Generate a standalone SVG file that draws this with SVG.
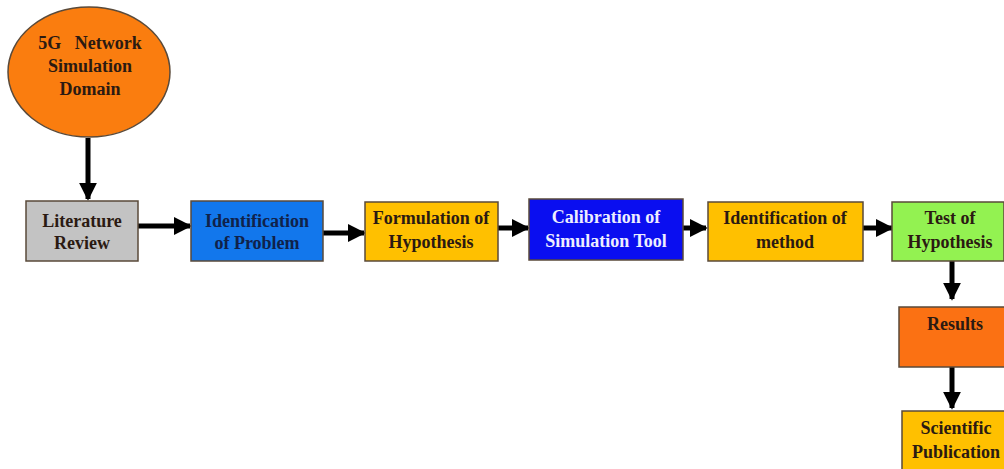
<svg xmlns="http://www.w3.org/2000/svg" width="1004" height="469" viewBox="0 0 1004 469">
<style>
.t{font-family:"Liberation Serif","DejaVu Serif",serif;font-weight:bold;font-size:18px;text-anchor:middle;fill:#2b1a12}
.box{stroke:#5a4a3a;stroke-width:1.5}
.c{stroke:#000;stroke-width:5;fill:none}
</style>
<defs>
<marker id="ah" viewBox="0 0 10 10" refX="9" refY="5" markerWidth="3.6" markerHeight="3.6" orient="auto" markerUnits="strokeWidth">
<path d="M0,0 L10,5 L0,10 Z" fill="#000"/>
</marker>
</defs>
<rect width="1004" height="469" fill="#fff"/>
<g id="connectors">
<line class="c" x1="88" y1="138" x2="88" y2="199" marker-end="url(#ah)"/>
<line class="c" x1="138" y1="226" x2="190" y2="226" marker-end="url(#ah)"/>
<line class="c" x1="323" y1="233" x2="364" y2="233" marker-end="url(#ah)"/>
<line class="c" x1="498" y1="228" x2="528" y2="228" marker-end="url(#ah)"/>
<line class="c" x1="683" y1="228" x2="706" y2="228" marker-end="url(#ah)"/>
<line class="c" x1="863" y1="228" x2="892" y2="228" marker-end="url(#ah)"/>
<line class="c" x1="952" y1="261" x2="952" y2="299" marker-end="url(#ah)"/>
<line class="c" x1="952" y1="367" x2="952" y2="408" marker-end="url(#ah)"/>
</g>
<g id="domain">
<ellipse cx="89" cy="72" rx="81" ry="65" fill="#fa7d0f" stroke="#5a4a3a" stroke-width="1.5"/>
<text class="t" x="90" y="49" xml:space="preserve">5G   Network</text>
<text class="t" x="90" y="72">Simulation</text>
<text class="t" x="90" y="95">Domain</text>
</g>
<g id="literature">
<rect class="box" x="26" y="201" width="112" height="60" fill="#c3c3c3"/>
<text class="t" x="82" y="227">Literature</text>
<text class="t" x="82" y="249">Review</text>
</g>
<g id="problem">
<rect class="box" x="191" y="201" width="132" height="60" fill="#1277ec"/>
<text class="t" x="257" y="227" style="fill:#10224a">Identification</text>
<text class="t" x="257" y="249" style="fill:#10224a">of Problem</text>
</g>
<g id="formulation">
<rect class="box" x="365" y="202" width="133" height="59" fill="#ffc000"/>
<text class="t" x="431" y="224">Formulation of</text>
<text class="t" x="431" y="248">Hypothesis</text>
</g>
<g id="calibration">
<rect class="box" x="529" y="199" width="154" height="61" fill="#0a0ef0"/>
<text class="t" x="606" y="223" style="fill:#eeeeff">Calibration of</text>
<text class="t" x="606" y="247" style="fill:#eeeeff">Simulation Tool</text>
</g>
<g id="method">
<rect class="box" x="708" y="202" width="155" height="59" fill="#ffc000"/>
<text class="t" x="785" y="224">Identification of</text>
<text class="t" x="785" y="248">method</text>
</g>
<g id="test">
<rect class="box" x="892" y="202" width="112" height="59" fill="#93f251"/>
<text class="t" x="950" y="224">Test of</text>
<text class="t" x="950" y="248">Hypothesis</text>
</g>
<g id="results">
<rect class="box" x="899" y="307" width="107" height="60" fill="#fb7113"/>
<text class="t" x="955" y="330">Results</text>
</g>
<g id="publication">
<rect class="box" x="902" y="411" width="104" height="62" fill="#ffc000"/>
<text class="t" x="956" y="434">Scientific</text>
<text class="t" x="956" y="458">Publication</text>
</g>
</svg>
